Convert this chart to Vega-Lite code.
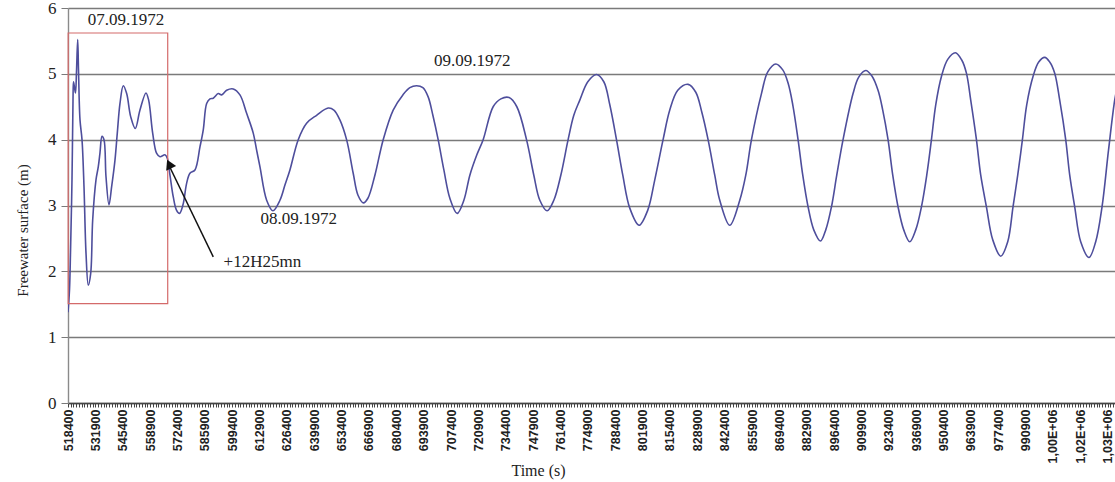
{
  "$schema": "https://vega.github.io/schema/vega-lite/v6.json",
  "width": 1047,
  "height": 395,
  "autosize": "none",
  "padding": {"left": 68, "top": 8, "right": 0, "bottom": 79},
  "background": "white",
  "config": {"view": {"stroke": null}},
  "encoding": {
    "x": {
      "field": "t",
      "type": "quantitative",
      "scale": {"domain": [518400, 1035000], "nice": false, "zero": false},
      "axis": {
        "title": "Time (s)",
        "titleFont": "Liberation Serif",
        "titleFontSize": 16,
        "titleFontWeight": "normal",
        "titleColor": "#222",
        "titleX": 470,
        "titleY": 67,
        "titleAlign": "center",
        "titleBaseline": "middle",
        "grid": false,
        "domainColor": "#444",
        "domainWidth": 1.5,
        "tickColor": "#444",
        "tickSize": 4,
        "labelAngle": -90,
        "labelAlign": "right",
        "labelBaseline": "middle",
        "labelPadding": 2,
        "labelFont": "Liberation Sans",
        "labelFontWeight": "bold",
        "labelFontSize": 12.5,
        "labelColor": "#222",
        "labelOverlap": false,
        "labelFlush": false,
        "labelBound": false,
        "labelExpr": "(datum.value - 518400) % 13500 == 0 ? (datum.value >= 1000000 ? replace(format(datum.value / 1000000, '.2f'), '.', ',') + 'E+06' : format(datum.value, 'd')) : ''",
        "values": [518400, 519750, 521100, 522450, 523800, 525150, 526500, 527850, 529200, 530550, 531900, 533250, 534600, 535950, 537300, 538650, 540000, 541350, 542700, 544050, 545400, 546750, 548100, 549450, 550800, 552150, 553500, 554850, 556200, 557550, 558900, 560250, 561600, 562950, 564300, 565650, 567000, 568350, 569700, 571050, 572400, 573750, 575100, 576450, 577800, 579150, 580500, 581850, 583200, 584550, 585900, 587250, 588600, 589950, 591300, 592650, 594000, 595350, 596700, 598050, 599400, 600750, 602100, 603450, 604800, 606150, 607500, 608850, 610200, 611550, 612900, 614250, 615600, 616950, 618300, 619650, 621000, 622350, 623700, 625050, 626400, 627750, 629100, 630450, 631800, 633150, 634500, 635850, 637200, 638550, 639900, 641250, 642600, 643950, 645300, 646650, 648000, 649350, 650700, 652050, 653400, 654750, 656100, 657450, 658800, 660150, 661500, 662850, 664200, 665550, 666900, 668250, 669600, 670950, 672300, 673650, 675000, 676350, 677700, 679050, 680400, 681750, 683100, 684450, 685800, 687150, 688500, 689850, 691200, 692550, 693900, 695250, 696600, 697950, 699300, 700650, 702000, 703350, 704700, 706050, 707400, 708750, 710100, 711450, 712800, 714150, 715500, 716850, 718200, 719550, 720900, 722250, 723600, 724950, 726300, 727650, 729000, 730350, 731700, 733050, 734400, 735750, 737100, 738450, 739800, 741150, 742500, 743850, 745200, 746550, 747900, 749250, 750600, 751950, 753300, 754650, 756000, 757350, 758700, 760050, 761400, 762750, 764100, 765450, 766800, 768150, 769500, 770850, 772200, 773550, 774900, 776250, 777600, 778950, 780300, 781650, 783000, 784350, 785700, 787050, 788400, 789750, 791100, 792450, 793800, 795150, 796500, 797850, 799200, 800550, 801900, 803250, 804600, 805950, 807300, 808650, 810000, 811350, 812700, 814050, 815400, 816750, 818100, 819450, 820800, 822150, 823500, 824850, 826200, 827550, 828900, 830250, 831600, 832950, 834300, 835650, 837000, 838350, 839700, 841050, 842400, 843750, 845100, 846450, 847800, 849150, 850500, 851850, 853200, 854550, 855900, 857250, 858600, 859950, 861300, 862650, 864000, 865350, 866700, 868050, 869400, 870750, 872100, 873450, 874800, 876150, 877500, 878850, 880200, 881550, 882900, 884250, 885600, 886950, 888300, 889650, 891000, 892350, 893700, 895050, 896400, 897750, 899100, 900450, 901800, 903150, 904500, 905850, 907200, 908550, 909900, 911250, 912600, 913950, 915300, 916650, 918000, 919350, 920700, 922050, 923400, 924750, 926100, 927450, 928800, 930150, 931500, 932850, 934200, 935550, 936900, 938250, 939600, 940950, 942300, 943650, 945000, 946350, 947700, 949050, 950400, 951750, 953100, 954450, 955800, 957150, 958500, 959850, 961200, 962550, 963900, 965250, 966600, 967950, 969300, 970650, 972000, 973350, 974700, 976050, 977400, 978750, 980100, 981450, 982800, 984150, 985500, 986850, 988200, 989550, 990900, 992250, 993600, 994950, 996300, 997650, 999000, 1000350, 1001700, 1003050, 1004400, 1005750, 1007100, 1008450, 1009800, 1011150, 1012500, 1013850, 1015200, 1016550, 1017900, 1019250, 1020600, 1021950, 1023300, 1024650, 1026000, 1027350, 1028700, 1030050, 1031400, 1032750, 1034100]
      }
    },
    "y": {
      "field": "h",
      "type": "quantitative",
      "scale": {"domain": [0, 6], "nice": false, "zero": true},
      "axis": {
        "title": "Freewater surface (m)",
        "titleFont": "Liberation Serif",
        "titleFontSize": 15,
        "titleFontWeight": "normal",
        "titleColor": "#222",
        "titleAngle": -90,
        "titleX": -46,
        "titleY": 222,
        "titleAlign": "center",
        "titleBaseline": "middle",
        "values": [0, 1, 2, 3, 4, 5, 6],
        "grid": true,
        "gridColor": "#7a7a7a",
        "gridWidth": 1.4,
        "domainColor": "#8a8a8a",
        "domainWidth": 1.4,
        "tickColor": "#7a7a7a",
        "tickSize": 7,
        "labelPadding": 5,
        "labelFont": "Liberation Serif",
        "labelFontSize": 17,
        "labelColor": "#222"
      }
    }
  },
  "layer": [
    {
      "data": {"values": [
        {"t": 518400, "h": 1.38}, {"t": 519140, "h": 1.72}, {"t": 519630, "h": 2.28}, {"t": 520370, "h": 3.39},
        {"t": 520870, "h": 4.6}, {"t": 521110, "h": 4.88}, {"t": 521610, "h": 4.79}, {"t": 522100, "h": 4.71},
        {"t": 522590, "h": 5.03}, {"t": 523180, "h": 5.52}, {"t": 523580, "h": 5.06}, {"t": 524320, "h": 4.3},
        {"t": 525310, "h": 4.0}, {"t": 526290, "h": 3.29}, {"t": 527280, "h": 2.28}, {"t": 528410, "h": 1.79},
        {"t": 529600, "h": 1.97}, {"t": 530580, "h": 2.78}, {"t": 532210, "h": 3.39}, {"t": 533350, "h": 3.59},
        {"t": 534180, "h": 3.8}, {"t": 535170, "h": 4.05}, {"t": 536160, "h": 4.0}, {"t": 537140, "h": 3.44},
        {"t": 538620, "h": 3.01}, {"t": 539950, "h": 3.29}, {"t": 541580, "h": 3.69}, {"t": 542720, "h": 4.1},
        {"t": 544050, "h": 4.55}, {"t": 545680, "h": 4.82}, {"t": 547350, "h": 4.7}, {"t": 549330, "h": 4.35},
        {"t": 551600, "h": 4.17}, {"t": 553910, "h": 4.45}, {"t": 556870, "h": 4.71}, {"t": 558200, "h": 4.6},
        {"t": 560180, "h": 4.1}, {"t": 562150, "h": 3.79}, {"t": 563780, "h": 3.74}, {"t": 566240, "h": 3.77},
        {"t": 567380, "h": 3.72}, {"t": 568710, "h": 3.46}, {"t": 570340, "h": 3.13}, {"t": 571920, "h": 2.93},
        {"t": 573400, "h": 2.88}, {"t": 575130, "h": 3.01}, {"t": 576950, "h": 3.34}, {"t": 578570, "h": 3.49},
        {"t": 581040, "h": 3.54}, {"t": 583510, "h": 3.89}, {"t": 585140, "h": 4.15}, {"t": 586810, "h": 4.55},
        {"t": 588440, "h": 4.62}, {"t": 590070, "h": 4.63}, {"t": 592540, "h": 4.7}, {"t": 594210, "h": 4.68},
        {"t": 596680, "h": 4.75}, {"t": 599930, "h": 4.77}, {"t": 603240, "h": 4.68}, {"t": 606540, "h": 4.4},
        {"t": 609800, "h": 4.1}, {"t": 611470, "h": 3.84}, {"t": 613100, "h": 3.59}, {"t": 616410, "h": 3.08},
        {"t": 619520, "h": 2.92}, {"t": 622970, "h": 3.08}, {"t": 625440, "h": 3.31}, {"t": 627900, "h": 3.54},
        {"t": 632000, "h": 4.0}, {"t": 636130, "h": 4.25}, {"t": 641060, "h": 4.37}, {"t": 646790, "h": 4.48},
        {"t": 649590, "h": 4.45}, {"t": 652550, "h": 4.3}, {"t": 655860, "h": 4.0}, {"t": 659120, "h": 3.49},
        {"t": 661440, "h": 3.16}, {"t": 664150, "h": 3.04}, {"t": 666370, "h": 3.11}, {"t": 669830, "h": 3.46},
        {"t": 673920, "h": 4.0}, {"t": 678850, "h": 4.45}, {"t": 683640, "h": 4.68}, {"t": 687090, "h": 4.79},
        {"t": 690390, "h": 4.82}, {"t": 693500, "h": 4.79}, {"t": 696110, "h": 4.65}, {"t": 698430, "h": 4.37},
        {"t": 701040, "h": 4.0}, {"t": 703860, "h": 3.54}, {"t": 706820, "h": 3.11}, {"t": 710420, "h": 2.88},
        {"t": 713720, "h": 3.08}, {"t": 716680, "h": 3.46}, {"t": 720130, "h": 3.77}, {"t": 723240, "h": 4.0},
        {"t": 728170, "h": 4.5}, {"t": 731970, "h": 4.62}, {"t": 736060, "h": 4.64}, {"t": 739860, "h": 4.5},
        {"t": 744640, "h": 4.0}, {"t": 748240, "h": 3.46}, {"t": 751200, "h": 3.08}, {"t": 754800, "h": 2.92},
        {"t": 758110, "h": 3.08}, {"t": 761560, "h": 3.46}, {"t": 765160, "h": 4.0}, {"t": 767970, "h": 4.37},
        {"t": 770930, "h": 4.6}, {"t": 774880, "h": 4.88}, {"t": 779170, "h": 4.99}, {"t": 782770, "h": 4.88},
        {"t": 785730, "h": 4.53}, {"t": 789030, "h": 4.0}, {"t": 792140, "h": 3.46}, {"t": 795590, "h": 2.96},
        {"t": 800180, "h": 2.7}, {"t": 804470, "h": 2.93}, {"t": 807920, "h": 3.39}, {"t": 812020, "h": 4.0},
        {"t": 815320, "h": 4.45}, {"t": 819270, "h": 4.75}, {"t": 824350, "h": 4.84}, {"t": 828150, "h": 4.72},
        {"t": 831110, "h": 4.42}, {"t": 834220, "h": 4.0}, {"t": 837520, "h": 3.46}, {"t": 839990, "h": 3.08},
        {"t": 844920, "h": 2.7}, {"t": 849860, "h": 3.08}, {"t": 852820, "h": 3.46}, {"t": 855630, "h": 4.0},
        {"t": 860560, "h": 4.7}, {"t": 863670, "h": 5.03}, {"t": 867620, "h": 5.15}, {"t": 871070, "h": 5.06},
        {"t": 873690, "h": 4.86}, {"t": 876010, "h": 4.53}, {"t": 878620, "h": 4.0}, {"t": 880940, "h": 3.46},
        {"t": 883560, "h": 2.98}, {"t": 886370, "h": 2.63}, {"t": 889670, "h": 2.46}, {"t": 892290, "h": 2.63},
        {"t": 895100, "h": 2.98}, {"t": 897710, "h": 3.46}, {"t": 900820, "h": 4.0}, {"t": 905750, "h": 4.7},
        {"t": 908560, "h": 4.95}, {"t": 912020, "h": 5.05}, {"t": 914980, "h": 4.97}, {"t": 918080, "h": 4.75},
        {"t": 920400, "h": 4.45}, {"t": 923020, "h": 4.0}, {"t": 925340, "h": 3.46}, {"t": 927950, "h": 2.98},
        {"t": 930760, "h": 2.63}, {"t": 933720, "h": 2.45}, {"t": 936680, "h": 2.63}, {"t": 939500, "h": 2.98},
        {"t": 942110, "h": 3.46}, {"t": 944430, "h": 4.0}, {"t": 946550, "h": 4.53}, {"t": 949360, "h": 4.96},
        {"t": 952470, "h": 5.22}, {"t": 956270, "h": 5.32}, {"t": 959380, "h": 5.21}, {"t": 961690, "h": 5.01},
        {"t": 963810, "h": 4.6}, {"t": 966630, "h": 4.0}, {"t": 968750, "h": 3.46}, {"t": 971560, "h": 2.98},
        {"t": 974670, "h": 2.48}, {"t": 978610, "h": 2.23}, {"t": 982070, "h": 2.45}, {"t": 984680, "h": 2.98},
        {"t": 987000, "h": 3.46}, {"t": 989320, "h": 4.0}, {"t": 991440, "h": 4.53}, {"t": 994550, "h": 4.96},
        {"t": 997360, "h": 5.18}, {"t": 1000320, "h": 5.25}, {"t": 1002790, "h": 5.18}, {"t": 1005250, "h": 5.01},
        {"t": 1007720, "h": 4.6}, {"t": 1010680, "h": 4.0}, {"t": 1012660, "h": 3.46}, {"t": 1015120, "h": 2.98},
        {"t": 1018080, "h": 2.45}, {"t": 1022170, "h": 2.21}, {"t": 1025480, "h": 2.45}, {"t": 1028600, "h": 2.98},
        {"t": 1031800, "h": 3.84}, {"t": 1034850, "h": 4.6}, {"t": 1036330, "h": 4.83}
      ]},
      "mark": {"type": "line", "color": "#4e4e9c", "strokeWidth": 1.6, "interpolate": "catmull-rom", "clip": true}
    },
    {
      "data": {"values": [{"t": 518500, "t2": 567600, "h": 1.51, "h2": 5.62}]},
      "mark": {"type": "rect", "fill": null, "fillOpacity": 0, "stroke": "#d46a6a", "strokeWidth": 1.2},
      "encoding": {"x2": {"field": "t2"}, "y2": {"field": "h2"}}
    },
    {
      "data": {"values": [{"t": 590070, "t2": 567900, "h": 2.22, "h2": 3.63}]},
      "mark": {"type": "rule", "color": "#111", "strokeWidth": 1.5},
      "encoding": {"x2": {"field": "t2"}, "y2": {"field": "h2"}}
    },
    {
      "data": {"values": [{"t": 568300, "h": 3.63}]},
      "mark": {"type": "point", "shape": "triangle-up", "filled": true, "color": "#111", "opacity": 1, "size": 120, "angle": 335}
    },
    {
      "data": {"values": [
        {"t": 547000, "h": 5.82, "label": "07.09.1972"},
        {"t": 717900, "h": 5.19, "label": "09.09.1972"},
        {"t": 632300, "h": 2.8, "label": "08.09.1972"},
        {"t": 614300, "h": 2.14, "label": "+12H25mn"}
      ]},
      "mark": {"type": "text", "font": "Liberation Serif", "fontSize": 17, "color": "#222", "align": "center", "baseline": "middle"},
      "encoding": {"text": {"field": "label"}}
    }
  ]
}
